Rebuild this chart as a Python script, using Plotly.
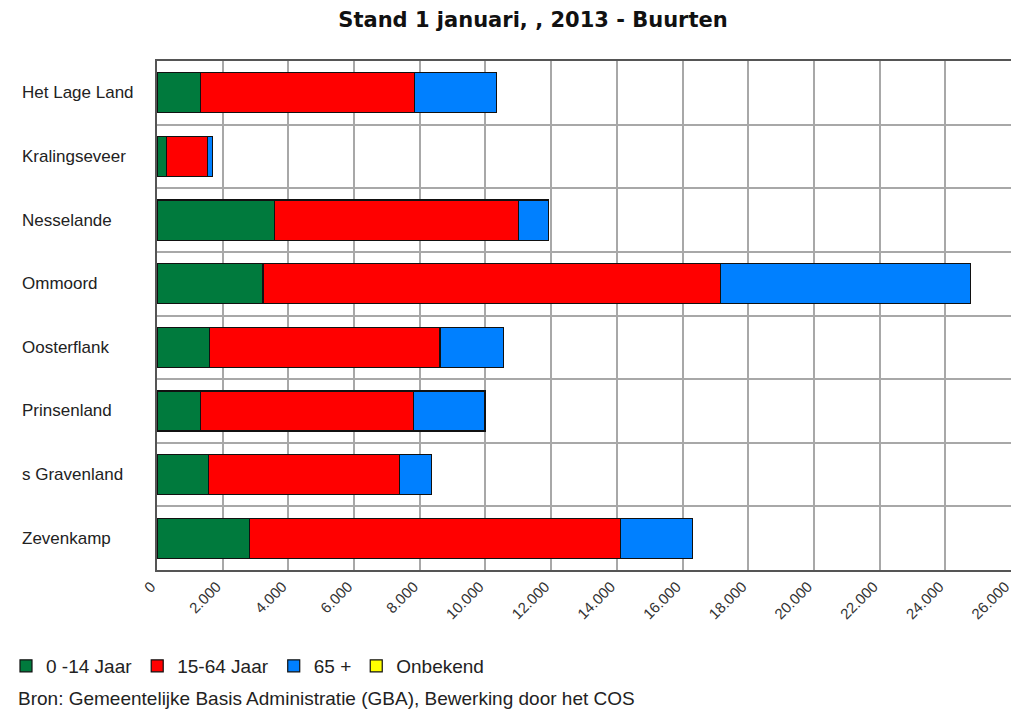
import plotly.graph_objects as go

categories = ["Het Lage Land", "Kralingseveer", "Nesselande", "Ommoord",
              "Oosterflank", "Prinsenland", "s Gravenland", "Zevenkamp"]
age_0_14 = [1315, 300, 3575, 3225, 1595, 1315, 1575, 2820]
age_15_64 = [6515, 1245, 7435, 13925, 7020, 6495, 5800, 11300]
age_65_plus = [2505, 150, 910, 7605, 1930, 2175, 970, 2175]
onbekend = [0, 0, 0, 0, 0, 0, 0, 0]

series_names = ["0 -14 Jaar", "15-64 Jaar", "65 +", "Onbekend"]
series_values = [age_0_14, age_15_64, age_65_plus, onbekend]
series_colors = ["#007A3D", "#FF0000", "#0080FF", "#FFFF00"]

x_ticks = list(range(0, 26001, 2000))

fig = go.Figure()
for name, vals, col in zip(series_names, series_values, series_colors):
    fig.add_trace(go.Bar(
        y=categories, x=vals, name=name, orientation="h",
        marker=dict(color=col, line=dict(color="#111111", width=1.2)),
        width=0.63,
    ))

L, R, T, B = 157, 3, 61, 146
W, H = 1014, 716
pw = W - L - R
ph = H - T - B

annotations = []
for c in categories:
    annotations.append(dict(
        xref="paper", yref="y", x=(20 - L) / pw, y=c, text=c,
        xanchor="left", yanchor="middle", showarrow=False,
        font=dict(family="Liberation Sans, Arial", size=17, color="#222222"),
    ))
annotations.append(dict(
    xref="paper", yref="paper", x=(16 - L) / pw, y=-(698 - (T + ph)) / ph,
    text="Bron: Gemeentelijke Basis Administratie (GBA), Bewerking door het COS",
    xanchor="left", yanchor="middle", showarrow=False,
    font=dict(family="Liberation Sans, Arial", size=19, color="#222222"),
))

fig.update_layout(
    width=W, height=H,
    margin=dict(l=L, r=R, t=T, b=B),
    paper_bgcolor="white", plot_bgcolor="white",
    barmode="stack",
    separators=",.",
    title=dict(
        text="<b>Stand 1 januari, , 2013 - Buurten</b>",
        x=(533 - L) / pw, xref="paper", xanchor="center",
        y=1 - 20 / H, yanchor="middle",
        font=dict(family="DejaVu Sans", size=21, color="#111111"),
    ),
    xaxis=dict(
        range=[0, 26000], tickvals=x_ticks, tickformat=",d",
        tickangle=-45, showgrid=True, gridcolor="#A8A8A8", gridwidth=2,
        showline=True, linecolor="#555555", linewidth=2, mirror=True,
        zeroline=False, ticks="", ticklabeloverflow="allow", automargin=False,
        ticklabelshift=-6,
        tickfont=dict(family="Liberation Sans, Arial", size=15, color="#333333"),
    ),
    yaxis=dict(
        autorange="reversed", showticklabels=False, tickson="boundaries",
        showgrid=True, gridcolor="#A8A8A8", gridwidth=2, automargin=False,
        showline=True, linecolor="#555555", linewidth=2, ticks="",
    ),
    legend=dict(
        orientation="h", x=(6 - L) / pw, y=-(647 - (T + ph)) / ph,
        xanchor="left", yanchor="top", traceorder="normal",
        font=dict(family="Liberation Sans, Arial", size=19, color="#222222"),
    ),
    annotations=annotations,
    showlegend=True,
)

fig.write_html("out.html")
